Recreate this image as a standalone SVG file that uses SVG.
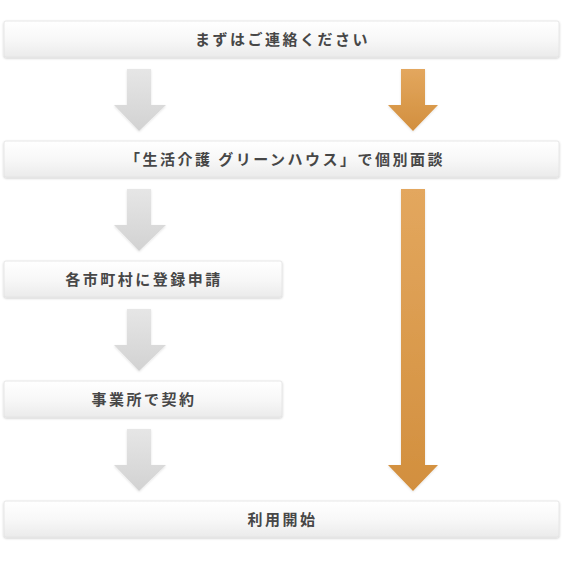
<svg xmlns="http://www.w3.org/2000/svg" width="563" height="568" viewBox="0 0 563 568">
<defs>
<linearGradient id="boxg" x1="0" y1="0" x2="0" y2="1">
<stop offset="0" stop-color="#ffffff"/>
<stop offset="0.5" stop-color="#f8f8f8"/>
<stop offset="1" stop-color="#ebebeb"/>
</linearGradient>
<linearGradient id="grayg" x1="0" y1="0" x2="0" y2="1">
<stop offset="0" stop-color="#e6e6e6"/>
<stop offset="1" stop-color="#d2d2d2"/>
</linearGradient>
<linearGradient id="orgg" x1="0" y1="0" x2="0" y2="1">
<stop offset="0" stop-color="#e3a75e"/>
<stop offset="1" stop-color="#d28f3e"/>
</linearGradient>
<filter id="sh" x="-5%" y="-20%" width="110%" height="150%">
<feDropShadow dx="0" dy="1" stdDeviation="1" flood-color="#000" flood-opacity="0.22"/>
</filter>
<filter id="ash" x="-20%" y="-10%" width="140%" height="125%">
<feDropShadow dx="0" dy="1" stdDeviation="0.8" flood-color="#000" flood-opacity="0.12"/>
</filter>
</defs>
<style>
.box{fill:url(#boxg);stroke:#e2e2e2;stroke-width:0.8;filter:url(#sh)}
.lbl{font-family:"Noto Sans CJK JP","Noto Sans",sans-serif;font-size:15px;font-weight:bold;fill:#474747;letter-spacing:2.5px;text-anchor:middle}
.ga{fill:url(#grayg);filter:url(#ash)}
.oa{fill:url(#orgg);filter:url(#ash)}
</style>
<rect width="563" height="568" fill="#ffffff"/>
<g id="connectors">
<polygon class="ga" points="127,69 151,69 151,105 166,105 139,131 114,105 127,105"/>
<polygon class="ga" points="127,189 151,189 151,225 166,225 139,251 114,225 127,225"/>
<polygon class="ga" points="127,309 151,309 151,345 166,345 139,371 114,345 127,345"/>
<polygon class="ga" points="127,429 151,429 151,465 166,465 139,491 114,465 127,465"/>
<polygon class="oa" points="401,69 425,69 425,105 438,105 413,131 388,105 401,105"/>
<polygon class="oa" points="401,189 425,189 425,465 438,465 413,491 388,465 401,465"/>
</g>
<g id="node1">
<rect class="box" x="4" y="21" width="555" height="36" rx="2"/>
<text class="lbl" x="282.5" y="45">まずはご連絡ください</text>
</g>
<g id="node2">
<rect class="box" x="4" y="141" width="555" height="36" rx="2"/>
<text class="lbl" x="285" y="165">「生活介護 グリーンハウス」で個別面談</text>
</g>
<g id="node3">
<rect class="box" x="4" y="261" width="278" height="36" rx="2"/>
<text class="lbl" x="144" y="285">各市町村に登録申請</text>
</g>
<g id="node4">
<rect class="box" x="4" y="381" width="278" height="36" rx="2"/>
<text class="lbl" x="144" y="405">事業所で契約</text>
</g>
<g id="node5">
<rect class="box" x="4" y="501" width="555" height="36" rx="2"/>
<text class="lbl" x="282.5" y="525">利用開始</text>
</g>
</svg>
